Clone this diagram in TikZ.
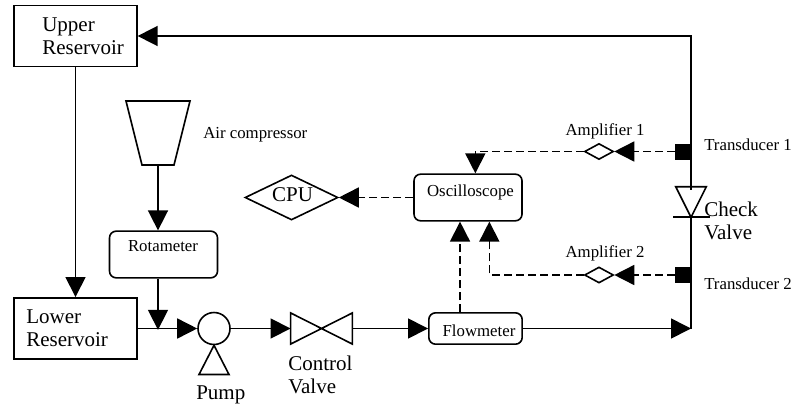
\documentclass[tikz,border=0pt]{standalone}
\usepackage{fontspec}
\setmainfont{Liberation Serif}
\usetikzlibrary{arrows.meta,shapes.geometric}
\tikzset{
	flow/.style={line width=1.2pt,-{Triangle[length=15pt,width=15pt]}},
	signal/.style={flow,dash pattern=on 6pt off 3pt},
	pipe/.style={line width=1.2pt},
	tank/.style={draw,line width=1.2pt,minimum width=92pt,minimum height=46pt,inner sep=0pt},
	meter/.style={draw,line width=1.2pt,rounded corners=5pt,inner sep=0pt},
	amp/.style={draw,diamond,line width=1.2pt,minimum width=21.75pt,minimum height=12pt,inner sep=0pt,aspect=1.8},
	sensor/.style={fill=black,minimum size=12pt,inner sep=0pt},
	bigtxt/.style={inner sep=0pt,align=left,font=\fontsize{15.75}{17.25}\selectfont},
	smalltxt/.style={inner sep=0pt,font=\fontsize{12.6}{14}\selectfont},
}

\begin{document}
\begin{tikzpicture}[x=0.75pt,y=-0.75pt]
	\useasboundingbox (0,0) rectangle (795,407);

	% Reservoirs
	\node[tank] (upper) at (75.5,36) {};
	\node[bigtxt,anchor=west] (uppertxt) at (42,36.5) {Upper\\Reservoir};
	\node[tank] (lower) at (75.5,328.5) {};
	\node[bigtxt,anchor=west] (lowertxt) at (26,328.5) {Lower\\Reservoir};
	\draw[flow] (upper.south) -- (lower.north);

	% Air supply
	\draw[pipe] (126,101) -- (190,101) -- (174,165) -- (142,165) -- cycle;
	\coordinate (aircomp) at (158,165);
	\node[smalltxt,anchor=west] (airtxt) at (203,135) {Air compressor};
	\node[meter,minimum width=81pt,minimum height=35pt] (rotameter) at (163.5,254.5) {};
	\node[smalltxt] (rotatxt) at (163,246) {Rotameter};
	\draw[flow] (aircomp) -- (aircomp |- rotameter.north);
	\coordinate (inlet) at (aircomp |- lower.east);
	\draw[flow] (aircomp |- rotameter.south) -- ([yshift=-1pt]inlet);

	% Main line
	\node[draw,circle,line width=1.2pt,minimum size=24pt,inner sep=0pt] (pump) at (214,328.5) {};
	\draw[pipe] (pump.south) -- (229,374.5) -- (199,374.5) -- cycle;
	\node[bigtxt,anchor=west] (pumptxt) at (196,395) {Pump};
	\node[minimum width=46pt,minimum height=23pt,inner sep=0pt] (valve) at (321.5,328.5) {};
	\draw[pipe] (valve.north west) -- (valve.south east) -- (valve.north east) -- (valve.south west) -- cycle;
	\node[bigtxt,anchor=west] (valvetxt) at (288,375) {Control\\Valve};
	\node[meter,minimum width=70pt,minimum height=23.5pt] (flowmeter) at (475.5,328.5) {};
	\node[smalltxt] (flowtxt) at (479,330.5) {Flowmeter};
	\draw[flow] (lower.east) -- (pump.west);
	\draw[flow] (pump.east) -- (valve.west);
	\draw[flow] (valve.east) -- (flowmeter.west);

	% Riser
	\coordinate (riser) at (691,328.5);
	\coordinate (corner) at (691,36);
	\node[minimum size=22.5pt,inner sep=0pt] (check) at (691,202) {};
	\draw[pipe] (check.north west) -- (check.north east) -- (check.south) -- cycle;
	\draw[pipe] ([xshift=-13.5pt]check.south) -- ([xshift=14pt]check.south);
	\node[bigtxt,anchor=west] (checktxt) at (704,221) {Check\\Valve};
	\draw[flow] (flowmeter.east) -- (riser);
	\draw[pipe] (riser) -- (check.south);
	\draw[flow] ([yshift=-2.25pt]check.north) -- (corner) -- (upper.east);

	% Signals
	\node[meter,minimum width=81pt,minimum height=35pt] (scope) at (468,197.5) {};
	\node[smalltxt] (scopetxt) at (470.5,192) {Oscilloscope};
	\node[draw,diamond,line width=1.2pt,minimum width=69.75pt,minimum height=33.75pt,inner sep=0pt,aspect=2] (cpu) at (291.5,197.5) {};
	\node[bigtxt] (cputxt) at (292.5,194.5) {CPU};
	\draw[signal] (scope.west) -- (cpu.east);
	\foreach \n/\y/\t/\ly/\ty in {1/151.5/Transducer 1/131/145, 2/275/Transducer 2/253/284} {
		\node[sensor] (sensor\n) at (683,\y) {};
		\node[amp] (amp\n) at (599,\y) {};
		\node[smalltxt] (amptxt\n) at (605,\ly) {Amplifier \n};
		\node[smalltxt,anchor=west] (sensortxt\n) at (704,\ty) {\t};
		\draw[signal] (sensor\n.west) -- (amp\n.east);
	}
	\coordinate (scopetop) at ([xshift=5.5pt]scope.north);
	\coordinate (scopelow) at ([xshift=16pt]scope.south);
	\draw[signal] (amp1.west) -- (scopetop |- amp1.west) -- (scopetop);
	\draw[signal] (amp2.west) -- (scopelow |- amp2.west) -- (scopelow);
	\draw[signal] ([xshift=-11.6pt]flowmeter.north) -- ([xshift=-11.6pt]flowmeter.north |- scope.south);
\end{tikzpicture}
\end{document}
